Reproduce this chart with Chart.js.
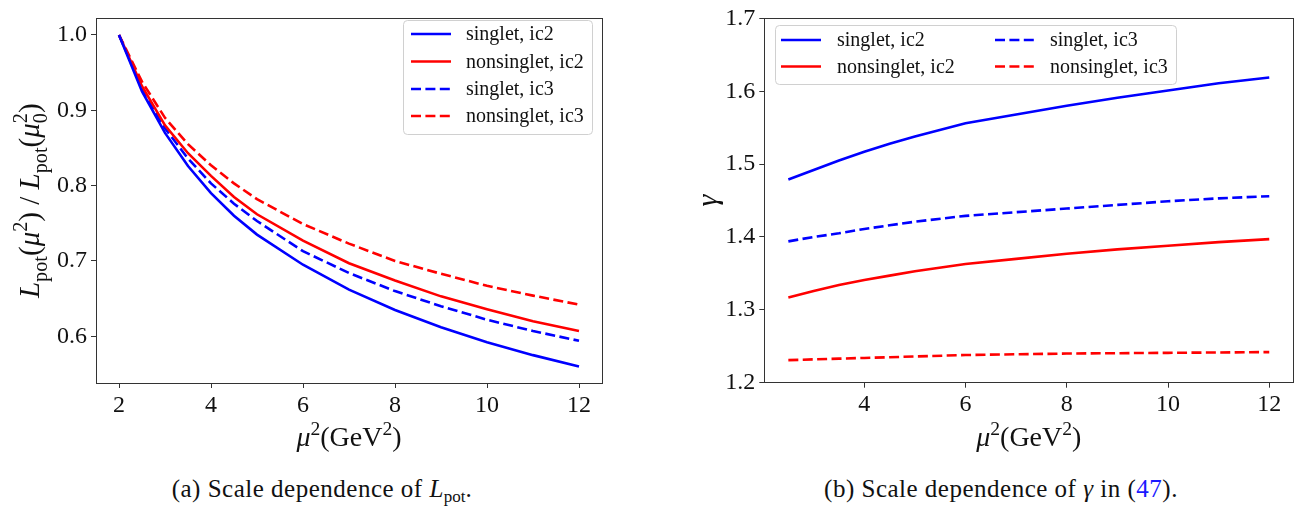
<!DOCTYPE html><html lang="en"><head><meta charset="utf-8"/>
<title>Scale dependence</title>
<script src="https://cdn.jsdelivr.net/npm/chart.js@4.4.1/dist/chart.umd.min.js"></script>
<style>
  *{box-sizing:border-box}
  body{margin:0;background:#fff;width:1295px;height:511px;position:relative;overflow:hidden;font-family:"Liberation Serif",serif;color:#111}
  canvas{position:absolute;top:0}
  .cap{position:absolute;top:476px;font-size:25px;line-height:25px;letter-spacing:0.5px;white-space:nowrap;transform:translateX(-50%)}
  .cap sub{font-size:17px;line-height:0;vertical-align:-5px;letter-spacing:0}
  .ref{color:#1a1aff}
</style></head><body>
<canvas id="lpot" width="640" height="460" style="left:0"></canvas>
<canvas id="gamma" width="635" height="460" style="left:660px"></canvas>
<div class="cap" style="left:322px">(a) Scale dependence of <i>L</i><sub>pot</sub>.</div>
<div class="cap" style="left:1001px">(b) Scale dependence of <i>γ</i> in (<span class="ref">47</span>).</div>
<script>
// (a) L_pot(mu^2)/L_pot(mu0^2)
const lpotMu2 = [2, 2.5, 3, 3.5, 4, 4.5, 5, 6, 7, 8, 9, 10, 11, 12];
const lpotSingletIc2    = [1.0, 0.925, 0.870, 0.826, 0.790, 0.760, 0.735, 0.695, 0.662, 0.635, 0.612, 0.592, 0.575, 0.560];
const lpotNonsingletIc2 = [1.0, 0.932, 0.880, 0.843, 0.813, 0.785, 0.762, 0.727, 0.697, 0.674, 0.653, 0.636, 0.620, 0.607];
const lpotSingletIc3    = [1.0, 0.930, 0.876, 0.836, 0.803, 0.776, 0.753, 0.713, 0.684, 0.660, 0.640, 0.622, 0.607, 0.594];
const lpotNonsingletIc3 = [1.0, 0.938, 0.890, 0.855, 0.827, 0.803, 0.782, 0.749, 0.723, 0.700, 0.683, 0.667, 0.654, 0.642];
const lpotXTicks = [2, 4, 6, 8, 10, 12];
const lpotYTicks = [0.6, 0.7, 0.8, 0.9, 1.0];

// (b) gamma
const gammaMu2 = [2.5, 3, 3.5, 4, 4.5, 5, 6, 7, 8, 9, 10, 11, 12];
const gammaSingletIc2    = [1.479, 1.492, 1.505, 1.517, 1.528, 1.538, 1.556, 1.568, 1.580, 1.591, 1.601, 1.611, 1.619];
const gammaNonsingletIc2 = [1.317, 1.326, 1.334, 1.341, 1.347, 1.353, 1.363, 1.370, 1.377, 1.383, 1.388, 1.393, 1.397];
const gammaSingletIc3    = [1.394, 1.400, 1.405, 1.411, 1.416, 1.421, 1.429, 1.434, 1.439, 1.444, 1.449, 1.453, 1.456];
const gammaNonsingletIc3 = [1.231, 1.232, 1.233, 1.234, 1.235, 1.236, 1.238, 1.239, 1.240, 1.2405, 1.241, 1.2415, 1.242];
const gammaXTicks = [4, 6, 8, 10, 12];
const gammaYTicks = [1.2, 1.3, 1.4, 1.5, 1.6, 1.7];

const labels = ['singlet, ic2', 'nonsinglet, ic2', 'singlet, ic3', 'nonsinglet, ic3'];
const colors = ['#0000ff', '#ff0000', '#0000ff', '#ff0000'];
const DASH = [10, 4.4];
const dashes = [[], [], DASH, DASH];

const SERIF = '"Liberation Serif", serif';
const INK = '#111';

function fontFor(kind, size) {
  const s = (kind === 'sub' || kind === 'sup' || kind === 'ss') ? size * 0.7 : size;
  return (kind === 'i' ? 'italic ' : '') + s + 'px ' + SERIF;
}
// parts: [text, kind]; kind = r | i | sub | sup | ss ("sub|sup" stacked)
function drawRich(ctx, parts, cx, cy, size, rotate) {
  ctx.save();
  ctx.translate(cx, cy);
  if (rotate) ctx.rotate(-Math.PI / 2);
  ctx.fillStyle = INK; ctx.textBaseline = 'alphabetic'; ctx.textAlign = 'left';
  const w = parts.map(([t, k]) => {
    ctx.font = fontFor(k, size);
    if (k === 'ss') return Math.max(...t.split('|').map(s => ctx.measureText(s).width));
    return ctx.measureText(t).width;
  });
  let x = -w.reduce((a, b) => a + b, 0) / 2;
  const base = size * 0.3;
  parts.forEach(([t, k], i) => {
    ctx.font = fontFor(k, size);
    if (k === 'ss') {
      const [a, b] = t.split('|');
      ctx.fillText(a, x, base + size * 0.27);
      ctx.fillText(b, x, base - size * 0.42);
    } else {
      ctx.fillText(t, x, base + (k === 'sub' ? size * 0.27 : k === 'sup' ? -size * 0.42 : 0));
    }
    x += w[i];
  });
  ctx.restore();
}

// box, inner legend and rich axis titles, drawn on top of the chart
const decor = {
  id: 'decor',
  afterDraw(chart, args, o) {
    const {ctx, chartArea: a} = chart;
    ctx.save();
    ctx.strokeStyle = '#333'; ctx.lineWidth = 1;
    ctx.strokeRect(Math.round(a.left) + 0.5, Math.round(a.top) + 0.5, Math.round(a.right - a.left), Math.round(a.bottom - a.top));
    // legend
    const L = o.legend;
    ctx.fillStyle = 'rgba(255,255,255,0.8)'; ctx.strokeStyle = '#d0d0d0';
    ctx.beginPath(); ctx.roundRect(L.box[0] + 0.5, L.box[1] + 0.5, L.box[2], L.box[3], 4); ctx.fill(); ctx.stroke();
    chart.data.datasets.forEach((ds, i) => {
      const col = L.cols[Math.floor(i / L.rows.length)], y = L.rows[i % L.rows.length];
      ctx.strokeStyle = ds.borderColor; ctx.lineWidth = ds.borderWidth; ctx.setLineDash(ds.borderDash);
      ctx.beginPath(); ctx.moveTo(col[0], y); ctx.lineTo(col[0] + L.len, y); ctx.stroke();
      ctx.setLineDash([]);
      ctx.fillStyle = INK; ctx.font = L.size + 'px ' + SERIF; ctx.textBaseline = 'middle';
      ctx.fillText(ds.label, col[1], y + 1);
    });
    ctx.restore();
    drawRich(ctx, o.xTitle, (a.left + a.right) / 2, o.xTitleY, 28, false);
    drawRich(ctx, o.yTitle, o.yTitleX, (a.top + a.bottom) / 2, o.yTitleSize, true);
  }
};

function pad(vals, f) {
  const lo = Math.min(...vals), hi = Math.max(...vals), m = (hi - lo) * f;
  return [lo - m, hi + m];
}

function axis(ticks, range, extra) {
  return Object.assign({
    type: 'linear', min: range[0], max: range[1],
    afterBuildTicks: s => { s.ticks = ticks.map(v => ({value: v})); },
    grid: {drawOnChartArea: false, drawTicks: true, tickLength: 5, color: '#333', lineWidth: 1},
    border: {display: true, color: '#333', width: 1}
  }, extra);
}

const tickFont = {family: SERIF, size: 24};

function makeChart(id, xs, series, cfg) {
  return new Chart(document.getElementById(id), {
    type: 'line',
    data: {datasets: series.map((vals, i) => ({
      label: labels[i], data: xs.map((x, j) => ({x, y: vals[j]})),
      borderColor: colors[i], borderDash: dashes[i], borderWidth: 2.6,
      pointRadius: 0, tension: 0, fill: false
    }))},
    options: {
      responsive: false, animation: false, events: [],
      layout: {padding: cfg.padding},
      plugins: {legend: {display: false}, tooltip: {enabled: false}, decor: cfg.decor},
      scales: {
        x: axis(cfg.xTicks, cfg.xRange, {
          ticks: {color: INK, font: tickFont, padding: 3, autoSkip: false, maxRotation: 0, callback: v => String(v)},
          afterFit: s => { s.height = cfg.xHeight; }}),
        y: axis(cfg.yTicks, cfg.yRange, {
          ticks: {color: INK, font: tickFont, padding: 4, autoSkip: false, callback: v => v.toFixed(1)},
          afterFit: s => { s.width = cfg.yWidth; }})
      }
    },
    plugins: [decor]
  });
}

const muTitle = [['μ', 'i'], ['2', 'sup'], ['(GeV', 'r'], ['2', 'sup'], [')', 'r']];

makeChart('lpot', lpotMu2,
  [lpotSingletIc2, lpotNonsingletIc2, lpotSingletIc3, lpotNonsingletIc3], {
  xTicks: lpotXTicks, yTicks: lpotYTicks,
  xRange: pad(lpotMu2, 0.05),
  yRange: pad([].concat(lpotSingletIc2, lpotNonsingletIc2, lpotSingletIc3, lpotNonsingletIc3), 0.05),
  padding: {top: 10, right: 38, left: 0, bottom: 0}, xHeight: 77, yWidth: 96,
  decor: {
    legend: {box: [403, 20, 189, 114], cols: [[411, 466]], rows: [34, 61.5, 89, 116], len: 40, size: 20},
    xTitle: muTitle, xTitleY: 438,
    yTitle: [['L', 'i'], ['pot', 'sub'], ['(', 'r'], ['μ', 'i'], ['2', 'sup'], [')', 'r'], [' / ', 'r'],
             ['L', 'i'], ['pot', 'sub'], ['(', 'r'], ['μ', 'i'], ['0|2', 'ss'], [')', 'r']],
    yTitleX: 30, yTitleSize: 29
  }
});

makeChart('gamma', gammaMu2,
  [gammaSingletIc2, gammaNonsingletIc2, gammaSingletIc3, gammaNonsingletIc3], {
  xTicks: gammaXTicks, yTicks: gammaYTicks,
  xRange: pad(gammaMu2, 0.05),
  yRange: [gammaYTicks[0], gammaYTicks[gammaYTicks.length - 1]],
  padding: {top: 14.7, right: 1.7, left: 0, bottom: 0}, xHeight: 77.3, yWidth: 104.3,
  decor: {
    legend: {box: [115, 25, 401, 59], cols: [[121, 177], [335, 390]], rows: [40, 66.5], len: 40, size: 20},
    xTitle: muTitle, xTitleY: 438,
    yTitle: [['γ', 'i']], yTitleX: 48, yTitleSize: 30
  }
});
</script></body></html>
